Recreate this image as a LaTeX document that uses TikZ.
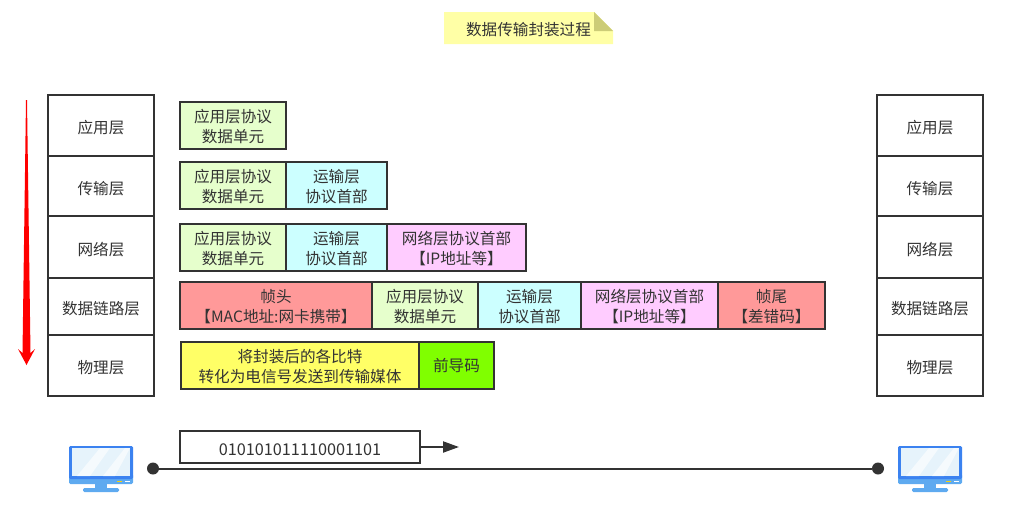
\documentclass[tikz,border=0pt]{standalone}
\usepackage{fontspec}
\setmainfont{Noto Sans CJK SC}
\usetikzlibrary{positioning, arrows.meta}
\definecolor{linegray}{HTML}{333333}
\definecolor{datagreen}{HTML}{E6FFCC}
\definecolor{transcyan}{HTML}{CCFFFF}
\definecolor{netpink}{HTML}{FFCCFF}
\definecolor{framered}{HTML}{FF9999}
\definecolor{wireyellow}{HTML}{FFFF66}
\definecolor{preamblegreen}{HTML}{80FF00}
\definecolor{notefill}{HTML}{FFFFA6}
\definecolor{notefold}{HTML}{CCCC77}
\definecolor{screenblue}{HTML}{E6F3FB}
\definecolor{frameblue}{HTML}{3B82F0}
\definecolor{standblue}{HTML}{5EAAF0}
\begin{document}
\begin{tikzpicture}[x=0.75pt, y=-0.75pt, >=stealth, node distance=0pt]
            \tikzset{base/.style = {draw=linegray, line width=1.5pt, outer sep=0pt, inner sep=0pt, align=center, text=linegray, font=\fontsize{11.7}{15}\selectfont, execute at begin node={\rule{0pt}{13.5pt}}}}
            \tikzset{layer/.style = {base, fill=white, minimum width=79.5pt}}
            \tikzset{cell/.style = {base, minimum height=35.25pt, text height=26pt, text depth=0pt}}
            \tikzset{data/.style = {cell, fill=datagreen, minimum width=79.5pt}}
            \tikzset{trans/.style = {cell, fill=transcyan, minimum width=75.75pt}}
            \tikzset{net/.style = {cell, fill=netpink, minimum width=103.5pt}}
            \tikzset{dot/.style = {circle, fill=linegray, minimum size=9pt, inner sep=0pt}}
            \tikzset{monitor/.pic = {
                \fill[standblue] (-6,37) rectangle (6,43);
                \fill[standblue, rounded corners=1pt] (-18,42) rectangle (18,46);
                \fill[standblue, rounded corners=1pt] (-32,28) rectangle (32,38);
                \fill[frameblue, rounded corners=1pt] (-32,0) rectangle (32,33);
                \fill[screenblue] (-29,2) rectangle (29,30);
                \fill[white, opacity=.6] (-24,30) -- (-1,2) -- (9,2) -- (-11,30) -- cycle;
                \fill[white, opacity=.6] (2,30) -- (24,2) -- (29,2) -- (14,30) -- cycle;
                \fill[yellow!70!orange] (16,34.5) rectangle (21,36);
                \fill[white] (24,34.5) rectangle (29,36);
            }}

            % note in the title
            \fill[notefill] (444,12) -- (594,12) -- (613,31) -- (613,44) -- (444,44) -- cycle;
            \fill[notefold] (594,12) -- (613,31) -- (594,31) -- cycle;
            \node[text=linegray, font=\fontsize{11.7}{15}\selectfont] (title) at (528.5,29.5) {数据传输封装过程};

            % sending side
            \node[layer, minimum height=45.75pt, anchor=north west] (app) at (48,95) {应用层};
            \node[layer, minimum height=45pt, below=of app] (trans) {传输层};
            \node[layer, minimum height=46.5pt, below=of trans] (net) {网络层};
            \node[layer, minimum height=42.75pt, below=of net] (link) {数据链路层};
            \node[layer, minimum height=45.75pt, below=of link] (phy) {物理层};

            % receiving side
            \node[layer, minimum height=45.75pt, anchor=north west] (app2) at (877,95) {应用层};
            \node[layer, minimum height=45pt, below=of app2] (trans2) {传输层};
            \node[layer, minimum height=46.5pt, below=of trans2] (net2) {网络层};
            \node[layer, minimum height=42.75pt, below=of net2] (link2) {数据链路层};
            \node[layer, minimum height=45.75pt, below=of link2] (phy2) {物理层};

            % red arrow beside the stack
            \coordinate (downtop) at (26.5,100);
            \coordinate (downtip) at (26.5,365);
            \fill[red] (downtop) ++(-.5,0) -- (22.5,353) -- (18,349) -- (downtip) -- (35,349) -- (30.5,353) -- (27,100) -- cycle;

            % one row for each layer
            \node[data, anchor=north west] (d1) at (180,102) {应用层协议\\数据单元};

            \node[data, anchor=north west] (d2) at (180,162) {应用层协议\\数据单元};
            \node[trans, right=of d2] (t2) {运输层\\协议首部};

            \node[data, anchor=north west] (d3) at (180,224) {应用层协议\\数据单元};
            \node[trans, right=of d3] (t3) {运输层\\协议首部};
            \node[net, right=of t3, minimum width=104.25pt] (n3) {网络层协议首部\\【IP地址等】};

            \node[cell, fill=framered, minimum width=144pt, anchor=north west] (head4) at (180,282) {帧头\\【MAC地址:网卡携带】};
            \node[data, right=of head4] (d4) {应用层协议\\数据单元};
            \node[trans, right=of d4, minimum width=77.25pt] (t4) {运输层\\协议首部};
            \node[net, right=of t4, minimum width=102.75pt] (n4) {网络层协议首部\\【IP地址等】};
            \node[cell, fill=framered, right=of n4, minimum width=80.25pt] (tail4) {帧尾\\【差错码】};

            \node[cell, fill=wireyellow, minimum width=178.5pt, anchor=north west] (wire5) at (181,342) {将封装后的各比特\\转化为电信号发送到传输媒体};
            \node[cell, fill=preamblegreen, right=of wire5, minimum width=56.25pt, text height=9.6pt] (pre5) {前导码};

            % bit stream on the medium
            \node[base, fill=white, minimum width=180pt, minimum height=24pt, anchor=north west, font=\fontsize{12.2}{15}\selectfont] (bits) at (180,431) {010101011110001101};
            \coordinate[right=29.25pt of bits] (bitsend);
            \draw[-{Stealth[length=12pt, width=8.25pt, inset=0pt]}, draw=linegray, line width=1.5pt] (bits) -- (bitsend);

            \node[dot] (hostA) at (153,468.5) {};
            \node[dot] (hostB) at (878,468.5) {};
            \draw[linegray, line width=1.5pt] (hostA) -- (hostB);

            \pic at (101,446) {monitor};
            \pic at (930,446) {monitor};

            \useasboundingbox (0,0) rectangle (1024,521);
        \end{tikzpicture}
\end{document}
